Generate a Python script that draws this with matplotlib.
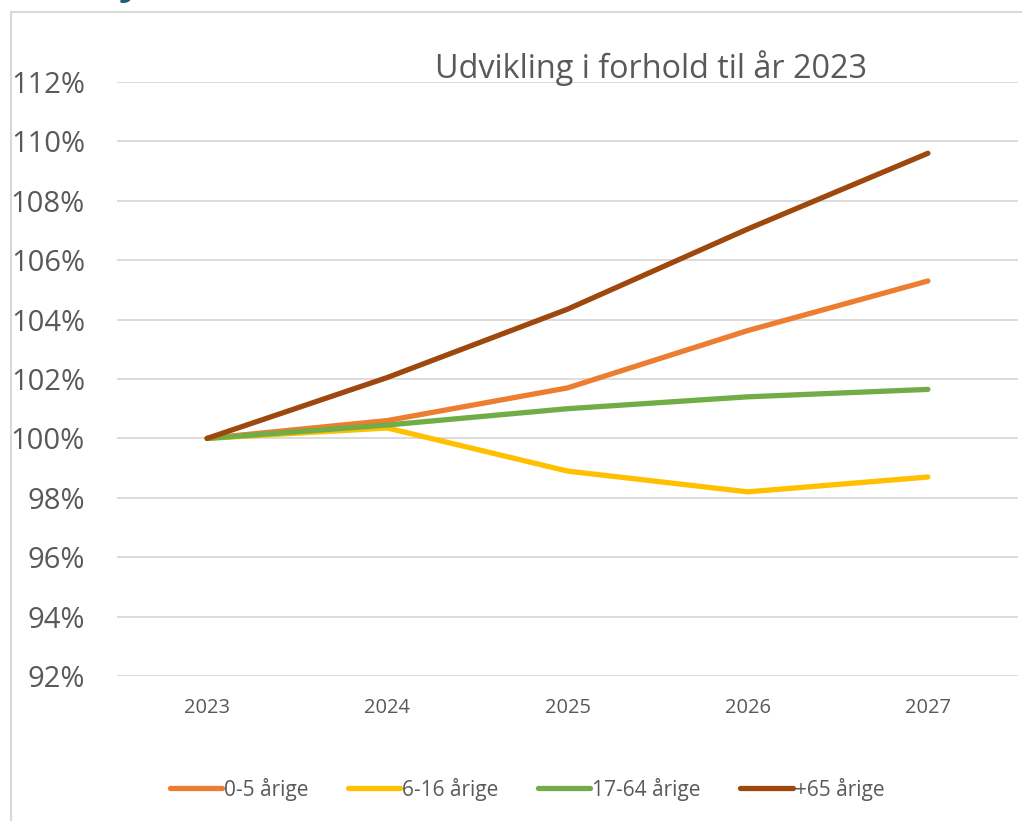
import matplotlib.pyplot as plt
from matplotlib.lines import Line2D
from matplotlib.ticker import FuncFormatter

plt.rcParams['font.family'] = ['Open Sans', 'DejaVu Sans']

years = ['2023', '2024', '2025', '2026', '2027']
labels = ['0-5 årige', '6-16 årige', '17-64 årige', '+65 årige']
colors = ['#ED7D31', '#FFC000', '#70AD47', '#9E480E']

age_0_5 = [1.000, 1.006, 1.017, 1.0363, 1.053]
age_6_16 = [1.000, 1.0035, 0.989, 0.982, 0.987]
age_17_64 = [1.000, 1.0045, 1.010, 1.014, 1.0165]
age_65 = [1.000, 1.0205, 1.0435, 1.0705, 1.096]
series = [age_0_5, age_6_16, age_17_64, age_65]

W, H = 1022, 821
fig = plt.figure(figsize=(W / 100, H / 100), dpi=100)
ax = fig.add_axes([117 / W, 145 / H, (1018 - 117) / W, (676 - 82) / H])

grid_col = '#d9d9d9'
txt_col = '#595959'

x = range(len(years))
for vals, col, lab in zip(series, colors, labels):
    ax.plot(x, vals, color=col, lw=3.8, solid_capstyle='round',
            solid_joinstyle='round', label=lab, zorder=3)

ax.set_xlim(-0.5, len(years) - 0.5)
ax.set_ylim(0.92, 1.12)
yt = [0.92 + 0.02 * i for i in range(11)]
ax.set_yticks(yt)
ax.yaxis.set_major_formatter(FuncFormatter(lambda v, p: f'{v * 100:.0f}%'))
ax.set_xticks(list(x))
ax.set_xticklabels(years)
ax.grid(axis='y', color=grid_col, lw=1.3, zorder=0)
for s in ax.spines.values():
    s.set_visible(False)
ax.tick_params(axis='y', length=0, pad=23, labelsize=21, labelcolor=txt_col)
ax.tick_params(axis='x', length=0, pad=16, labelsize=14.5, labelcolor=txt_col)

fig.text(651 / W, (H - 78) / H, 'Udvikling i forhold til år 2023',
         ha='center', va='baseline', fontsize=23.3, color=txt_col)

handles = [Line2D([0], [0], color=c, lw=3.8, solid_capstyle='round') for c in colors]
fig.legend(handles, labels, loc='center', bbox_to_anchor=(527 / W, (H - 789) / H),
           ncol=4, frameon=False, fontsize=15, labelcolor=txt_col,
           handlelength=2.5, handletextpad=0.1, columnspacing=1.9)

# chart frame (cropped)
fig.add_artist(Line2D([11 / W, 11 / W], [0, (H - 12) / H], color=grid_col, lw=1.5))
fig.add_artist(Line2D([11 / W, 1], [(H - 12) / H, (H - 12) / H], color=grid_col, lw=1.5))

# cropped heading fragment above the chart
fig.text(118 / W, 1 + 7 / H, 'y', ha='left', va='baseline', fontsize=30,
         color='#1b5e7e', fontweight='bold')

fig.savefig('out.png', dpi=100)
